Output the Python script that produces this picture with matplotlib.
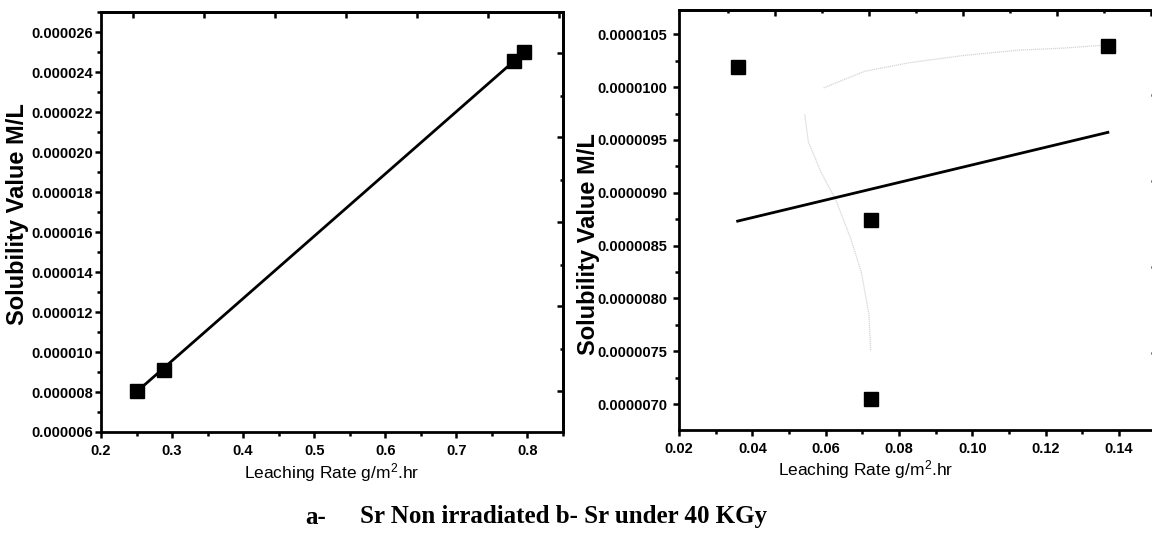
import numpy as np
import matplotlib
matplotlib.use('Agg')
import matplotlib.pyplot as plt
from matplotlib.ticker import FormatStrFormatter, MultipleLocator

# panel a: Sr non irradiated
rate_a = [0.250, 0.288, 0.781, 0.795]
sol_a = [8.07e-6, 9.12e-6, 24.53e-6, 25.00e-6]

# panel b: Sr under 40 KGy
rate_b = [0.036, 0.0723, 0.0723, 0.137]
sol_b = [10.19e-6, 8.74e-6, 7.05e-6, 10.39e-6]

# faint grey trace left in panel b (nan = gap)
trace_x = [0.137, 0.1252, 0.1127, 0.0977, 0.0827, 0.0707, 0.0628, 0.0593, np.nan,
           0.0543, 0.0553, 0.0588, 0.0628, 0.0668, 0.0698, 0.0718, 0.0723]
trace_y = [10.40e-6, 10.37e-6, 10.35e-6, 10.30e-6, 10.23e-6, 10.15e-6, 10.04e-6, 9.99e-6, np.nan,
           9.74e-6, 9.48e-6, 9.19e-6, 8.93e-6, 8.57e-6, 8.24e-6, 7.85e-6, 7.50e-6]

xlabel = 'Leaching Rate g/m$^{2}$.hr'
ylabel = 'Solubility Value M/L'

plt.rcParams['font.family'] = ['Liberation Sans', 'DejaVu Sans']
plt.rcParams['mathtext.default'] = 'regular'

fig = plt.figure(figsize=(11.52, 5.36), dpi=100)
axA = fig.add_axes([0.08767, 0.19403, 0.40104, 0.78358])
axB = fig.add_axes([0.58941, 0.19776, 0.41493, 0.78358])


def style(ax, ypad):
    for s in ax.spines.values():
        s.set_linewidth(2.0)
    ax.tick_params(which='major', direction='out', length=4.5, width=1.8, labelsize=10.5)
    ax.tick_params(which='minor', direction='out', length=3, width=1.8)
    ax.tick_params(axis='x', which='major', pad=4)
    ax.tick_params(axis='y', which='major', pad=ypad)
    for lab in ax.get_xticklabels() + ax.get_yticklabels():
        lab.set_fontweight('bold')


def mirror_ticks(ax, top_major, top_minor, right_major, right_minor):
    sx = ax.secondary_xaxis('top')
    sx.set_xticks(top_major)
    sx.set_xticks(top_minor, minor=True)
    sx.tick_params(which='major', direction='in', length=4.5, width=1.8, labeltop=False)
    sx.tick_params(which='minor', direction='in', length=2.5, width=1.8)
    sy = ax.secondary_yaxis('right')
    sy.set_yticks(right_major)
    sy.set_yticks(right_minor, minor=True)
    sy.tick_params(which='major', direction='in', length=4.5, width=1.8, labelright=False)
    sy.tick_params(which='minor', direction='in', length=2.5, width=1.8)
    for s in list(sx.spines.values()) + list(sy.spines.values()):
        s.set_linewidth(2.0)


# ---- panel a
axA.plot(rate_a, sol_a, 's', color='black', markersize=10, zorder=3)
ca = np.polyfit(rate_a, sol_a, 1)
xa = np.array([min(rate_a), max(rate_a)])
axA.plot(xa, np.polyval(ca, xa), color='black', lw=2.0)
axA.set_xlim(0.2, 0.85)
axA.set_ylim(6e-6, 27e-6)
axA.xaxis.set_major_locator(MultipleLocator(0.1))
axA.xaxis.set_minor_locator(MultipleLocator(0.05))
axA.yaxis.set_major_locator(MultipleLocator(2e-6))
axA.yaxis.set_minor_locator(MultipleLocator(1e-6))
axA.xaxis.set_major_formatter(FormatStrFormatter('%.1f'))
axA.yaxis.set_major_formatter(FormatStrFormatter('%.6f'))
style(axA, 1.5)
mirror_ticks(axA, np.arange(0.245, 0.85, 0.1), [],
             [24.95e-6, 20.73e-6, 16.5e-6, 12.28e-6, 8.07e-6],
             [22.78e-6, 18.6e-6, 14.37e-6, 10.17e-6])
axA.set_xlabel(xlabel, fontsize=12.5, va='center')
axA.xaxis.set_label_coords(0.5, -0.097)
axA.set_ylabel(ylabel, fontsize=17, fontweight='bold', va='center')
axA.yaxis.set_label_coords(-0.180, 0.52)

# ---- panel b
axB.plot(trace_x, trace_y, color='#d6d6d6', lw=0.9, ls=(0, (1, 0.6)), zorder=1)
axB.plot(rate_b, sol_b, 's', color='black', markersize=10, zorder=3)
cb = np.polyfit(rate_b, sol_b, 1)
xb = np.array([min(rate_b), max(rate_b)])
axB.plot(xb, np.polyval(cb, xb), color='black', lw=2.0)
axB.set_xlim(0.02, 0.1504)
axB.set_ylim(6.754e-6, 10.73e-6)
axB.xaxis.set_major_locator(MultipleLocator(0.02))
axB.xaxis.set_minor_locator(MultipleLocator(0.01))
axB.yaxis.set_major_locator(MultipleLocator(0.5e-6))
axB.yaxis.set_minor_locator(MultipleLocator(0.25e-6))
axB.xaxis.set_major_formatter(FormatStrFormatter('%.2f'))
axB.yaxis.set_major_formatter(FormatStrFormatter('%.7f'))
style(axB, 4)
mirror_ticks(axB, np.arange(0.0462, 0.151, 0.02566), np.arange(0.0334, 0.151, 0.02566),
             [9.923e-6, 9.108e-6, 8.294e-6, 7.479e-6],
             [10.346e-6, 9.515e-6, 8.70e-6, 7.886e-6, 7.055e-6])
axB.set_xlabel(xlabel, fontsize=12.5, va='center')
axB.xaxis.set_label_coords(0.391, -0.094)
axB.set_ylabel(ylabel, fontsize=17, fontweight='bold', va='center')
axB.yaxis.set_label_coords(-0.190, 0.443)

# caption
fig.text(305 / 1152, 1 - 517 / 536, 'a-', family=['Liberation Serif', 'DejaVu Serif'],
         fontsize=18, fontweight='bold', ha='left', va='center')
fig.text(360 / 1152, 1 - 517 / 536, 'Sr Non irradiated b- Sr under 40 KGy',
         family=['Liberation Serif', 'DejaVu Serif'],
         fontsize=18, fontweight='bold', ha='left', va='center')

fig.savefig('out.png', dpi=100)
